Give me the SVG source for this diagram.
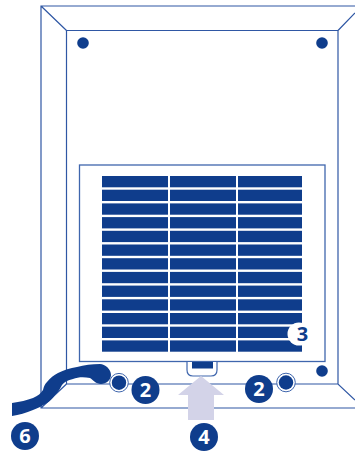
<svg xmlns="http://www.w3.org/2000/svg" width="355" height="453" viewBox="0 0 355 453">
<style>
.l{fill:none;stroke:#2f57a4;stroke-width:1.2}
.b{fill:#0f3d8c}
.n{fill:#0f3d8c}
.t{font-family:"Open Sans","Liberation Sans",sans-serif;font-weight:700;font-size:20px;text-anchor:middle;fill:#fff}
</style>
<rect width="355" height="453" fill="#fff"/>
<g id="housing">
<path class="l" d="M355 6H41V408H355M41 6L66.500 30.500M338 30.500L355 13M66.500 30.500H338V384M66.500 30.500V384H338L355 400M66.500 384L41 408"/>
<circle class="b" cx="83" cy="43" r="5.800"/>
<circle class="b" cx="322" cy="43" r="5.800"/>
<circle class="b" cx="322" cy="371" r="5.800"/>
</g>
<g id="filter">
<rect x="79.500" y="165" width="245.500" height="196.500" fill="#fff" stroke="#3f66ad" stroke-width="1.300"/>
<g id="grille" class="b">
<rect x="102" y="176" width="66" height="11.300"/><rect x="170" y="176" width="66" height="11.300"/><rect x="238" y="176" width="64" height="11.300"/>
<rect x="102" y="189.700" width="66" height="11.300"/><rect x="170" y="189.700" width="66" height="11.300"/><rect x="238" y="189.700" width="64" height="11.300"/>
<rect x="102" y="203.400" width="66" height="11.300"/><rect x="170" y="203.400" width="66" height="11.300"/><rect x="238" y="203.400" width="64" height="11.300"/>
<rect x="102" y="217.100" width="66" height="11.300"/><rect x="170" y="217.100" width="66" height="11.300"/><rect x="238" y="217.100" width="64" height="11.300"/>
<rect x="102" y="230.800" width="66" height="11.300"/><rect x="170" y="230.800" width="66" height="11.300"/><rect x="238" y="230.800" width="64" height="11.300"/>
<rect x="102" y="244.500" width="66" height="11.300"/><rect x="170" y="244.500" width="66" height="11.300"/><rect x="238" y="244.500" width="64" height="11.300"/>
<rect x="102" y="258.200" width="66" height="11.300"/><rect x="170" y="258.200" width="66" height="11.300"/><rect x="238" y="258.200" width="64" height="11.300"/>
<rect x="102" y="271.900" width="66" height="11.300"/><rect x="170" y="271.900" width="66" height="11.300"/><rect x="238" y="271.900" width="64" height="11.300"/>
<rect x="102" y="285.600" width="66" height="11.300"/><rect x="170" y="285.600" width="66" height="11.300"/><rect x="238" y="285.600" width="64" height="11.300"/>
<rect x="102" y="299.300" width="66" height="11.300"/><rect x="170" y="299.300" width="66" height="11.300"/><rect x="238" y="299.300" width="64" height="11.300"/>
<rect x="102" y="313" width="66" height="11.300"/><rect x="170" y="313" width="66" height="11.300"/><rect x="238" y="313" width="64" height="11.300"/>
<rect x="102" y="326.700" width="66" height="11.300"/><rect x="170" y="326.700" width="66" height="11.300"/><rect x="238" y="326.700" width="64" height="11.300"/>
<rect x="102" y="340.400" width="66" height="11.300"/><rect x="170" y="340.400" width="66" height="11.300"/><rect x="238" y="340.400" width="64" height="11.300"/>
</g>
</g>
<g id="latch">
<path d="M187 362V370Q187 376 193 376H211Q217 376 217 370V362" fill="#fff" stroke="#3f66ad" stroke-width="1.200"/>
<rect class="b" x="192" y="362" width="21" height="6.500"/>
</g>
<g id="arrow-4">
<path d="M201 376L224 395H214V420H188V395H178Z" fill="#d3d3e8"/>
</g>
<g id="screw-left">
<circle cx="119" cy="382.700" r="9.300" fill="#fff" stroke="#3f66ad" stroke-width="1"/>
<circle class="b" cx="119" cy="382.700" r="7.200"/>
</g>
<g id="screw-right">
<circle cx="286" cy="382.500" r="9.300" fill="#fff" stroke="#3f66ad" stroke-width="1"/>
<circle class="b" cx="286" cy="382.500" r="7.200"/>
</g>
<g id="cable">
<path class="b" d="M12 403C20 402 27 400 33 398C38 396 41 393 43 390C44 386 45 384 47 382C50 378 54 375 58 373C64 370 70 368 77 367C84 365 92 364 100 364C105 364 111 369 111 375C111 380 106 384 101 384C96 384 93 380 90 378C84 377 78 377 73 379C68 380 64 382 62 385C60 389 58 392 55 395C52 399 50 401 47 403C42 406 38 408 33 410C26 413 19 415 12 416Z"/>
</g>
<g id="label-2-left"><circle class="n" cx="145.500" cy="390" r="14"/><text class="t" x="145.500" y="397">2</text></g>
<g id="label-2-right"><circle class="n" cx="259" cy="389" r="14"/><text class="t" x="259" y="396">2</text></g>
<g id="label-3"><circle cx="299" cy="334" r="11.500" fill="#fff"/><text class="t" style="fill:#0f3d8c" x="302.500" y="341">3</text></g>
<g id="label-4"><circle class="n" cx="204" cy="437" r="14"/><text class="t" x="204" y="444">4</text></g>
<g id="label-6"><circle class="n" cx="25" cy="436" r="14"/><text class="t" x="25" y="443">6</text></g>
</svg>
